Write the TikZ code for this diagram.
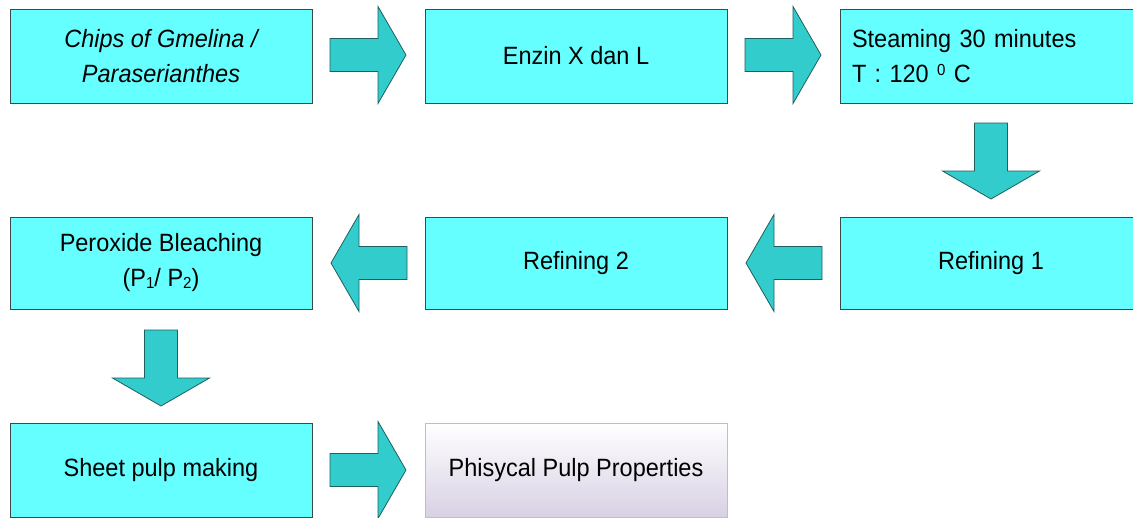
\documentclass[tikz,border=0pt]{standalone}
\usepackage{fontspec}
\setmainfont{Liberation Sans}[FakeStretch=0.94]
\definecolor{boxcyan}{HTML}{66FFFF}
\definecolor{arrteal}{HTML}{33CCCC}
\definecolor{arredge}{HTML}{1F5F5F}
\definecolor{boxedge}{HTML}{3A4A4A}
\definecolor{lavtop}{HTML}{FFFFFF}
\definecolor{lavbot}{HTML}{D8D0E4}
\definecolor{lavedge}{HTML}{C4B8D6}
\newcommand\barrow[2]{%
  \begin{scope}[shift={#1},rotate=#2]
    \draw[arrowshape] (0,-16.5) -- (48,-16.5) -- (48,-48.5) -- (76,0) -- (48,48.5) -- (48,16.5) -- (0,16.5) -- cycle;
  \end{scope}}
\newcommand\supnum[1]{\raisebox{7pt}{\fontsize{16}{16}\selectfont #1}}
\newcommand\subnum[1]{\raisebox{-2pt}{\fontsize{16}{16}\selectfont #1}}
\begin{document}
\begin{tikzpicture}[x=1pt,y=-1pt,
  stepbox/.style={draw=boxedge,line width=0.8pt,fill=boxcyan,minimum width=302pt,minimum height=94pt,inner sep=0pt,align=center,font=\fontsize{25}{35}\selectfont},
  finalbox/.style={stepbox,draw=lavedge,top color=lavtop,bottom color=lavbot},
  arrowshape/.style={draw=arredge,line width=0.8pt,fill=arrteal,line join=miter}]
\clip (0,0) rectangle (1133,517);
\fill[white] (0,0) rectangle (1133,517);
% row 1
\node[stepbox] (chips) at (161,56) {\itshape Chips of Gmelina /\\\itshape Paraserianthes};
\node[stepbox] (enzin) at (576,56) {Enzin X dan L};
\node[stepbox,text width=278pt,align=left] (steam) at (991,56) {Steaming 30 minutes\\T : 120 \supnum{0} C};
% row 2
\node[stepbox,minimum height=92pt] (perox) at (161,263) {Peroxide Bleaching\\(P\subnum{1}/ P\subnum{2})};
\node[stepbox,minimum height=92pt] (ref2) at (576,263) {Refining 2};
\node[stepbox,minimum height=92pt] (ref1) at (991,263) {Refining 1};
% row 3
\node[stepbox] (sheet) at (161,470) {Sheet pulp making};
\node[finalbox] (prop) at (576,470) {Phisycal Pulp Properties};
% block arrows
\barrow{(330,55)}{0}
\barrow{(745,55)}{0}
\barrow{(991,123)}{-90}
\barrow{(822,263)}{180}
\barrow{(407,263)}{180}
\barrow{(161,330)}{-90}
\barrow{(330,470)}{0}
\end{tikzpicture}
\end{document}
